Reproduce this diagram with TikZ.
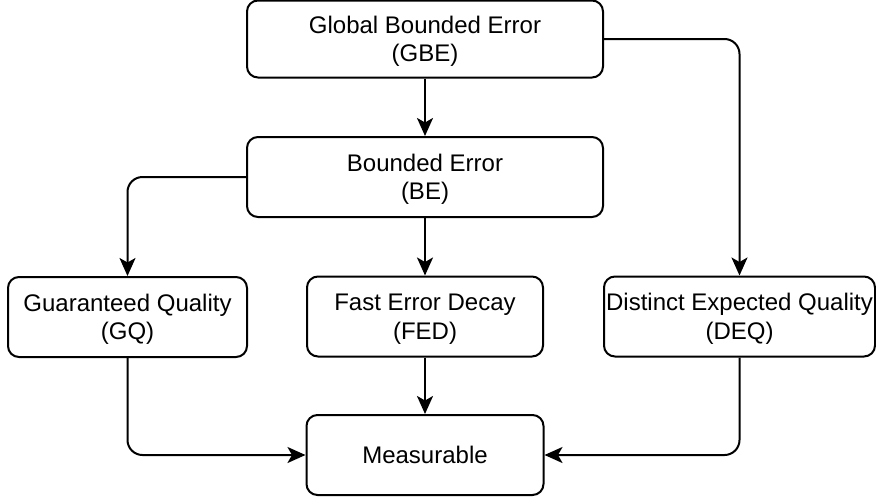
\documentclass[tikz,border=0pt]{standalone}
\usepackage{fontspec}
\setmainfont{Liberation Sans}
\usetikzlibrary{arrows.meta}
\begin{document}
\begin{tikzpicture}[x=1pt,y=-1pt,
  box/.style={draw, line width=2pt, rounded corners=11pt, align=center,
    inner sep=0pt, text height=45.5pt, text depth=0pt,
    font=\fontsize{24}{28.5}\selectfont},
  onebox/.style={box, text height=17pt},
  conn/.style={line width=2pt, rounded corners=15pt,
    -{Stealth[length=18pt,width=16pt,inset=4.5pt]}}]
\useasboundingbox (0,0) rectangle (876,496);
\node[box, minimum width=356pt, minimum height=77pt] (gbe) at (425,39) {Global Bounded Error\\(GBE)};
\node[box, minimum width=356pt, minimum height=80pt] (be) at (425,177) {Bounded Error\\(BE)};
\node[box, minimum width=239pt, minimum height=80pt] (gq) at (127.5,317) {Guaranteed Quality\\(GQ)};
\node[box, minimum width=236pt, minimum height=80pt] (fed) at (425,316.5) {Fast Error Decay\\(FED)};
\node[box, minimum width=271pt, minimum height=80pt] (deq) at (739.5,316.5) {Distinct Expected Quality\\(DEQ)};
\node[onebox, minimum width=237pt, minimum height=80pt] (meas) at (425,455) {Measurable};
\draw[conn] (gbe.south) -- (be.north);
\draw[conn] (gbe.east) -| (deq.north);
\draw[conn] (be.west) -| (gq.north);
\draw[conn] (be.south) -- (fed.north);
\draw[conn] (fed.south) -- (meas.north);
\draw[conn] (gq.south) |- (meas.west);
\draw[conn] (deq.south) |- (meas.east);
\end{tikzpicture}
\end{document}
